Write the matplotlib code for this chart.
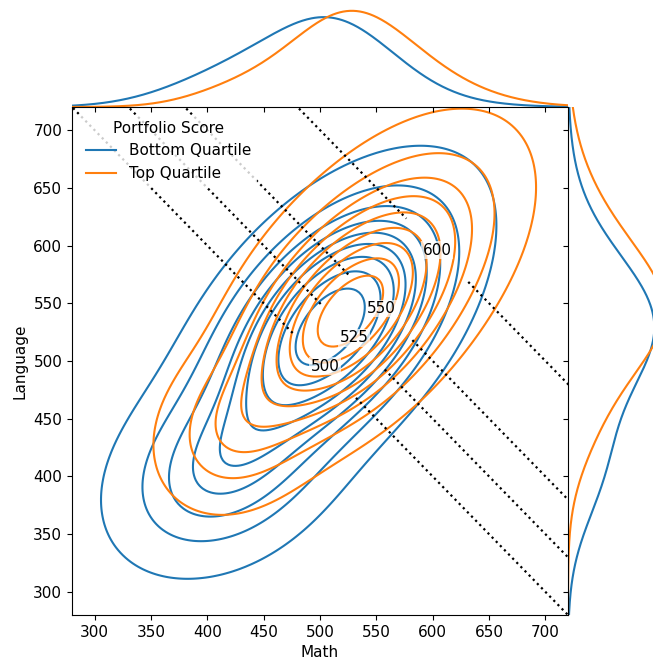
import numpy as np
import matplotlib
matplotlib.use("Agg")
import matplotlib.pyplot as plt
from matplotlib.lines import Line2D

# groups and colours
groups = ["Bottom Quartile", "Top Quartile"]
group_colors = ["#1f77b4", "#ff7f0e"]

# each group is described by a small gaussian mixture
# (weight, mean math, mean language, sd math, sd language, correlation)
bottom_weights = [0.45, 0.35, 0.20]
bottom_math_mean = [512, 505, 415]
bottom_lang_mean = [530, 535, 405]
bottom_math_sd = [52, 72, 55]
bottom_lang_sd = [56, 72, 48]
bottom_corr = [0.45, 0.60, 0.30]

top_weights = [0.50, 0.40, 0.10]
top_math_mean = [518, 562, 425]
top_lang_mean = [532, 585, 440]
top_math_sd = [50, 63, 42]
top_lang_sd = [52, 65, 42]
top_corr = [0.45, 0.50, 0.20]

# average-score reference lines and where their labels sit
avg_levels = [500, 525, 550, 600]
label_math = [502, 528, 552, 602]
label_lang = [493, 518, 543, 594]

ticks = [300, 350, 400, 450, 500, 550, 600, 650, 700]


def mix2d(X, Y, w, mx, my, sx, sy, r):
    z = np.zeros_like(X)
    for wi, a, b, c, d, rho in zip(w, mx, my, sx, sy, r):
        u = (X - a) / c
        v = (Y - b) / d
        q = (u * u - 2 * rho * u * v + v * v) / (1 - rho ** 2)
        z += wi * np.exp(-q / 2) / (2 * np.pi * c * d * np.sqrt(1 - rho ** 2))
    return z


def mix1d(t, w, m, s):
    out = np.zeros_like(t)
    for wi, a, c in zip(w, m, s):
        out += wi * np.exp(-0.5 * ((t - a) / c) ** 2) / (c * np.sqrt(2 * np.pi))
    return out


def iso_levels(z, props):
    vals = np.sort(z.ravel())[::-1]
    cum = np.cumsum(vals) / vals.sum()
    idx = np.searchsorted(cum, 1 - np.asarray(props))
    return np.take(vals, idx, mode="clip")


params = [
    (bottom_weights, bottom_math_mean, bottom_lang_mean, bottom_math_sd, bottom_lang_sd, bottom_corr),
    (top_weights, top_math_mean, top_lang_mean, top_math_sd, top_lang_sd, top_corr),
]

W, H = 653, 661
fig = plt.figure(figsize=(W / 100, H / 100), dpi=100)
ax = fig.add_axes([72 / W, (H - 615) / H, 496 / W, 508 / H])
ax_top = fig.add_axes([72 / W, (H - 107) / H, 496 / W, 101 / H], sharex=ax)
ax_right = fig.add_axes([568 / W, (H - 615) / H, 101 / W, 508 / H], sharey=ax)

g = np.linspace(0, 1000, 450)
X, Y = np.meshgrid(g, g)
props = np.linspace(0.05, 1, 10)

for p, col in zip(params, group_colors):
    Z = mix2d(X, Y, *p)
    lv = np.unique(iso_levels(Z, props))
    ax.contour(X, Y, Z, levels=lv[:-1], colors=col, linewidths=1.5)

# average score lines
S = (X + Y) / 2
cs = ax.contour(X, Y, S, levels=avg_levels, colors="k", linestyles=":", linewidths=1.6)
labels = ax.clabel(cs, inline=True, fmt="%d", fontsize=11,
                   manual=list(zip(label_math, label_lang)))
for t in labels:
    t.set_rotation(0)
    t.set_bbox(dict(facecolor="white", alpha=0.7, edgecolor="none", pad=1))

ax.set_xlim(280, 720)
ax.set_ylim(280, 720)
ax.set_xticks(ticks)
ax.set_yticks(ticks)
ax.tick_params(labelsize=11)
ax.set_xlabel("Math", fontsize=11)
ax.set_ylabel("Language", fontsize=11)
for s in ["top", "right"]:
    ax.spines[s].set_visible(False)

handles = [Line2D([], [], color=c, lw=1.5) for c in group_colors]
leg = ax.legend(handles, groups, title="Portfolio Score", loc="upper left",
                fontsize=11, title_fontsize=11, framealpha=0.8)
leg.get_frame().set_edgecolor("none")

# marginals
t = np.linspace(200, 800, 600)
mx_max, my_max = 0, 0
for p, col in zip(params, group_colors):
    w, mx, my, sx, sy, r = p
    dx = mix1d(t, w, mx, sx)
    dy = mix1d(t, w, my, sy)
    ax_top.plot(t, dx, color=col, lw=1.5)
    ax_right.plot(dy, t, color=col, lw=1.5)
    mx_max = max(mx_max, dx.max())
    my_max = max(my_max, dy.max())
ax_top.set_ylim(0, mx_max * 1.05)
ax_right.set_xlim(0, my_max * 1.05)

for s in ["top", "right", "left"]:
    ax_top.spines[s].set_visible(False)
ax_top.tick_params(axis="x", labelbottom=False)
ax_top.set_yticks([])
for s in ["top", "right", "bottom"]:
    ax_right.spines[s].set_visible(False)
ax_right.tick_params(axis="y", labelleft=False)
ax_right.set_xticks([])

fig.savefig("out.png", dpi=100)
